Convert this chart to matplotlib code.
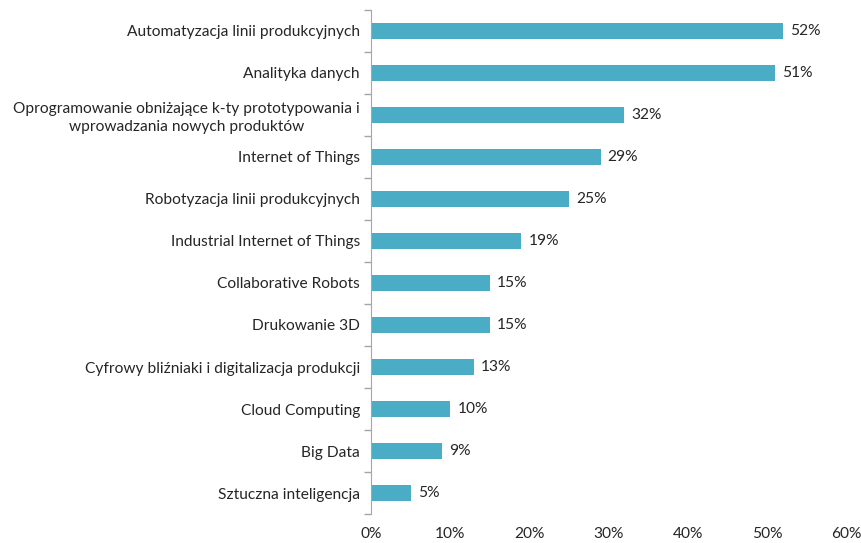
import matplotlib.pyplot as plt
import numpy as np

plt.rcParams['font.family'] = ['Lato', 'DejaVu Sans']

categories = [
    'Automatyzacja linii produkcyjnych',
    'Analityka danych',
    'Oprogramowanie obniżające k-ty prototypowania i\nwprowadzania nowych produktów',
    'Internet of Things',
    'Robotyzacja linii produkcyjnych',
    'Industrial Internet of Things',
    'Collaborative Robots',
    'Drukowanie 3D',
    'Cyfrowy bliźniaki i digitalizacja produkcji',
    'Cloud Computing',
    'Big Data',
    'Sztuczna inteligencja',
]
values = [52, 51, 32, 29, 25, 19, 15, 15, 13, 10, 9, 5]
xticks = [0, 10, 20, 30, 40, 50, 60]

bar_color = '#4BACC6'
text_color = '#262626'
fs = 11.2

fig = plt.figure(figsize=(8.61, 5.43), dpi=100)
ax = fig.add_axes([0.431, 0.0534, 0.9826 - 0.431, 0.9816 - 0.0534])

y = np.arange(len(categories))
ax.barh(y, values, height=0.38, color=bar_color)
for yi, v in zip(y, values):
    ax.text(v + 0.9, yi, f'{v}%', va='center', ha='left', fontsize=fs, color=text_color)

ax.set_xlim(0, 60)
ax.set_ylim(len(categories) - 0.5, -0.5)
ax.set_xticks(xticks)
ax.set_xticklabels([f'{t}%' for t in xticks], fontsize=fs, color=text_color)
ax.tick_params(axis='x', length=0, pad=9)

ax.set_yticks(y)
ax.set_yticklabels(categories, fontsize=fs, color=text_color,
                   multialignment='center', linespacing=1.35)
ax.tick_params(axis='y', which='major', length=0, pad=8)
ax.set_yticks(np.arange(-0.5, len(categories)), minor=True)
ax.tick_params(axis='y', which='minor', length=5, color='#a6a6a6', width=1)

for side in ['top', 'right', 'bottom']:
    ax.spines[side].set_visible(False)
ax.spines['left'].set_color('#a6a6a6')

fig.savefig('out.png', dpi=100)
